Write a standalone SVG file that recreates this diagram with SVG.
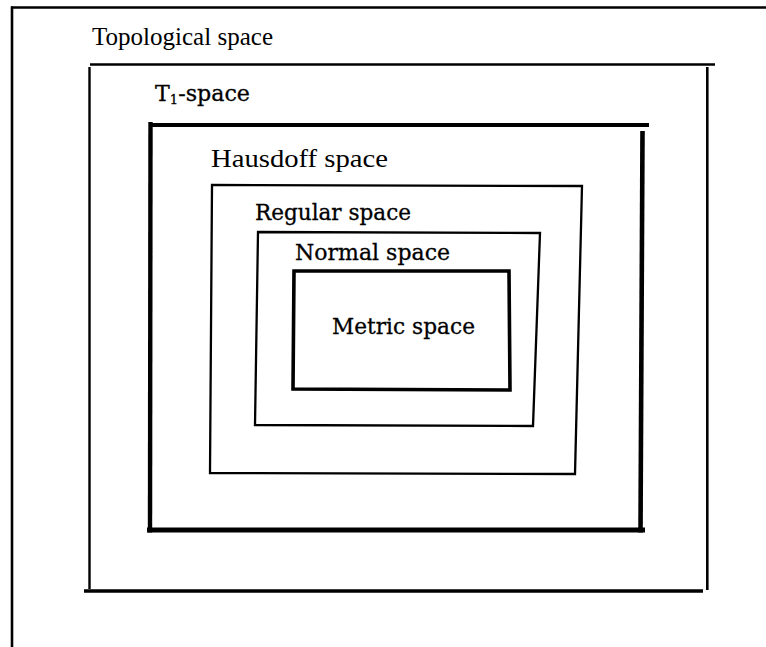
<svg xmlns="http://www.w3.org/2000/svg" width="766" height="647" viewBox="0 0 766 647">
  <style>
    .ln { stroke: #000; fill: none; stroke-linecap: butt; stroke-linejoin: miter; }
    .times { font-family: "Liberation Serif", "Times New Roman", serif; fill: #000; }
    .cent { font-family: "DejaVu Serif", "Liberation Serif", serif; fill: #000; stroke: #000; stroke-width: 0.3; }
  </style>
  <rect x="0" y="0" width="766" height="647" fill="#fff"/>

  <g id="topological-space">
    <line class="ln" x1="11" y1="7.5" x2="766" y2="7.5" stroke-width="2.6"/>
    <line class="ln" x1="12" y1="6.5" x2="12" y2="647" stroke-width="2.6"/>
    <text class="times" x="92" y="45" font-size="25" textLength="181" lengthAdjust="spacingAndGlyphs">Topological space</text>
  </g>

  <g id="t1-space">
    <line class="ln" x1="90" y1="64.5" x2="715" y2="64.5" stroke-width="2.4"/>
    <line class="ln" x1="89.5" y1="67" x2="89.5" y2="589" stroke-width="2.4"/>
    <line class="ln" x1="707.3" y1="67" x2="707.3" y2="590" stroke-width="2.6"/>
    <line class="ln" x1="84" y1="591" x2="703" y2="591" stroke-width="3.6"/>
    <text class="cent" x="155" y="101" font-size="22" textLength="95" lengthAdjust="spacingAndGlyphs">T<tspan font-size="13" dy="3">1</tspan><tspan dy="-3">-space</tspan></text>
  </g>

  <g id="hausdorff-space">
    <line class="ln" x1="149" y1="125" x2="649" y2="125" stroke-width="4.2"/>
    <line class="ln" x1="150.5" y1="122" x2="150" y2="532.5" stroke-width="4.4"/>
    <line class="ln" x1="642.5" y1="131" x2="640.5" y2="532.5" stroke-width="4.6"/>
    <line class="ln" x1="147" y1="530" x2="645" y2="530" stroke-width="5"/>
    <text class="times" x="211" y="167" font-size="25" textLength="177" lengthAdjust="spacingAndGlyphs">Hausdoff space</text>
  </g>

  <g id="regular-space">
    <polygon class="ln" points="212,185 582,186 575,474 210,473" stroke-width="2.3"/>
    <text class="cent" x="255" y="219.5" font-size="22" textLength="156" lengthAdjust="spacingAndGlyphs">Regular space</text>
  </g>

  <g id="normal-space">
    <polygon class="ln" points="258,232 540,233 533,426 255,425" stroke-width="2.3"/>
    <text class="cent" x="295" y="260" font-size="22" textLength="155" lengthAdjust="spacingAndGlyphs">Normal space</text>
  </g>

  <g id="metric-space">
    <polygon class="ln" points="294,271 509,271 510,390 293,389" stroke-width="3.6"/>
    <text class="cent" x="332" y="333.5" font-size="22" textLength="143" lengthAdjust="spacingAndGlyphs">Metric space</text>
  </g>

  <g id="connectors"></g>
</svg>
